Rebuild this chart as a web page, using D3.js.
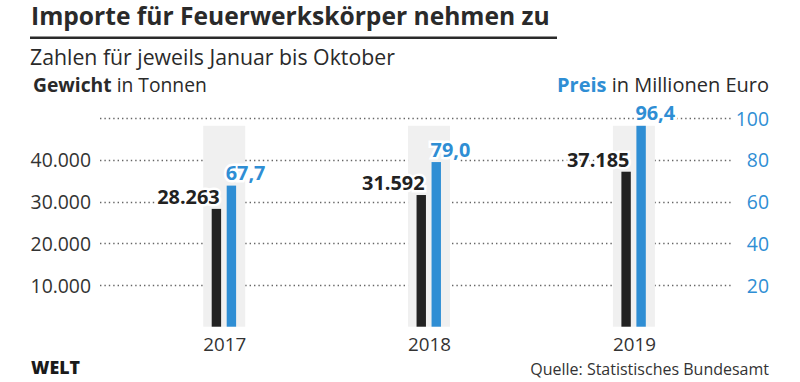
<!DOCTYPE html>
<html>
<head>
<meta charset="utf-8">
<script src="https://cdn.jsdelivr.net/npm/d3@7"></script>
<style>
  html, body { margin: 0; padding: 0; background: #fff; }
  svg { display: block; font-family: "Open Sans", Lato, sans-serif; }
</style>
</head>
<body>
<svg id="chart" width="800" height="382"></svg>
<script>
// ---- data ----
const years = ["2017", "2018", "2019"];
const weight = [28263, 31592, 37185];      // Tonnen
const price = [67.7, 79.0, 96.4];          // Millionen Euro
const leftTicks = [10000, 20000, 30000, 40000];
const rightTicks = [20, 40, 60, 80, 100];
const gridTicks = [10000, 20000, 30000, 40000, 50000];

const title = "Importe für Feuerwerkskörper nehmen zu";
const subtitle = "Zahlen für jeweils Januar bis Oktober";
const source = "Quelle: Statistisches Bundesamt";

// ---- style ----
const BLACK = "#222222";
const BLUE = "#2f8ed4";
const BAND = "#f0f0f0";
const TEXT = "#2a2a2a";
const FONT = "'Open Sans', Lato, sans-serif";

const de = d3.formatLocale({decimal: ",", thousands: ".", grouping: [3], currency: ["", " €"]});
const fmtInt = de.format(",.0f");
const fmtDec = de.format(",.1f");

const svg = d3.select("#chart");

// font size that makes a sample string reach a given width
function fitSize(str, weight, target) {
  const t = svg.append("text").attr("font-size", 20).attr("font-weight", weight).text(str);
  const w = t.node().getComputedTextLength();
  t.remove();
  return 20 * target / w;
}
function fitText(sel, target) {
  const w = sel.node().getComputedTextLength();
  const fs = parseFloat(sel.attr("font-size"));
  sel.attr("font-size", fs * target / w);
  return sel;
}

// ---- scales ----
const y0 = 326.7, y1 = 118.3;
const yL = d3.scaleLinear().domain([0, 50000]).range([y0, y1]);
const yR = d3.scaleLinear().domain([0, 100]).range([y0, y1]);
const x = d3.scalePoint().domain(years).range([224.2, 633.9]);
const barW = 9.4;

// ---- header ----
fitText(svg.append("text").attr("x", 31).attr("y", 25)
  .attr("font-size", 23).attr("font-weight", 700).attr("fill", TEXT)
  .text(title), 519);
svg.append("rect").attr("x", 30).attr("y", 36.5).attr("width", 527).attr("height", 2.5).attr("fill", TEXT);
fitText(svg.append("text").attr("x", 30).attr("y", 65)
  .attr("font-size", 20).attr("font-weight", 400).attr("fill", TEXT)
  .text(subtitle), 365);

const lh = svg.append("text").attr("x", 33).attr("y", 92).attr("font-size", 18).attr("fill", TEXT);
lh.append("tspan").attr("font-weight", 700).text("Gewicht");
lh.append("tspan").text(" in Tonnen");
fitText(lh, 174);

const rh = svg.append("text").attr("x", 769).attr("y", 92).attr("font-size", 18)
  .attr("text-anchor", "end").attr("fill", TEXT);
rh.append("tspan").attr("font-weight", 700).attr("fill", BLUE).text("Preis");
rh.append("tspan").text(" in Millionen Euro");
fitText(rh, 212);

// ---- gridlines ----
svg.append("g").selectAll("line.grid").data(gridTicks).join("line")
  .attr("class", "grid")
  .attr("x1", 100).attr("x2", 732)
  .attr("y1", d => Math.round(yL(d)) + 0.5).attr("y2", d => Math.round(yL(d)) + 0.5)
  .attr("stroke", "#666").attr("stroke-width", 1.4)
  .attr("stroke-dasharray", "1.4,3");

const tickSize = fitSize("40.000", 400, 60.5);
const valSize = fitSize("37.185", 700, 62.5);
const yearSize = fitSize("2019", 400, 43);

// left axis labels
const leftAxis = d3.axisLeft(yL).tickValues(leftTicks).tickFormat(fmtInt).tickSize(0).tickPadding(0);
const la = svg.append("g").attr("transform", "translate(91,0)").call(leftAxis);
la.select(".domain").remove();
la.selectAll("text").attr("font-size", tickSize).attr("fill", "#333").attr("font-family", FONT)
  .attr("dy", "0.36em");

// right axis labels
const rightAxis = d3.axisRight(yR).tickValues(rightTicks).tickFormat(d => d).tickSize(0).tickPadding(0);
const ra = svg.append("g").attr("transform", "translate(769,0)").call(rightAxis);
ra.select(".domain").remove();
ra.selectAll("text").attr("font-size", tickSize).attr("fill", BLUE).attr("font-family", FONT)
  .attr("text-anchor", "end").attr("dy", "0.36em");

// ---- bars ----
const data = years.map((yr, i) => ({yr, w: weight[i], p: price[i]}));
const bandTop = yR(d3.max(price));

svg.selectAll("rect.band").data(data).join("rect")
  .attr("class", "band")
  .attr("x", d => x(d.yr) - 21).attr("width", 42)
  .attr("y", bandTop).attr("height", y0 - bandTop)
  .attr("fill", BAND);

svg.selectAll("rect.wbar").data(data).join("rect")
  .attr("class", "wbar")
  .attr("x", d => x(d.yr) - 12.5).attr("width", barW)
  .attr("y", d => yL(d.w)).attr("height", d => y0 - yL(d.w))
  .attr("fill", BLACK);

svg.selectAll("rect.pbar").data(data).join("rect")
  .attr("class", "pbar")
  .attr("x", d => x(d.yr) + 2.5).attr("width", barW)
  .attr("y", d => yR(d.p)).attr("height", d => y0 - yR(d.p))
  .attr("fill", BLUE);

// value labels
svg.selectAll("text.wlab").data(data).join("text")
  .attr("class", "wlab")
  .attr("x", d => x(d.yr) - 4.5).attr("y", d => yL(d.w) - 5)
  .attr("text-anchor", "end")
  .attr("font-size", valSize).attr("font-weight", 700).attr("fill", BLACK)
  .attr("stroke", "#fff").attr("stroke-width", 5).attr("paint-order", "stroke")
  .text(d => fmtInt(d.w));

svg.selectAll("text.plab").data(data).join("text")
  .attr("class", "plab")
  .attr("x", d => x(d.yr) + 1.5).attr("y", d => yR(d.p) - 5.5)
  .attr("text-anchor", "start")
  .attr("font-size", valSize).attr("font-weight", 700).attr("fill", BLUE)
  .attr("stroke", "#fff").attr("stroke-width", 5).attr("paint-order", "stroke")
  .text(d => fmtDec(d.p));

// x labels
const xAxis = d3.axisBottom(x).tickSize(0).tickPadding(0);
const xa = svg.append("g").attr("transform", "translate(0,351)").call(xAxis);
xa.select(".domain").remove();
xa.selectAll("text").attr("font-size", yearSize).attr("fill", "#333").attr("font-family", FONT)
  .attr("dy", 0);

// ---- footer ----
fitText(svg.append("text").attr("x", 31).attr("y", 374)
  .attr("font-size", 15).attr("font-weight", 800).attr("fill", "#1a1a1a")
  .text("WELT"), 49);
fitText(svg.append("text").attr("x", 769).attr("y", 375).attr("text-anchor", "end")
  .attr("font-size", 15).attr("fill", "#333")
  .text(source), 239);
</script>
</body>
</html>
